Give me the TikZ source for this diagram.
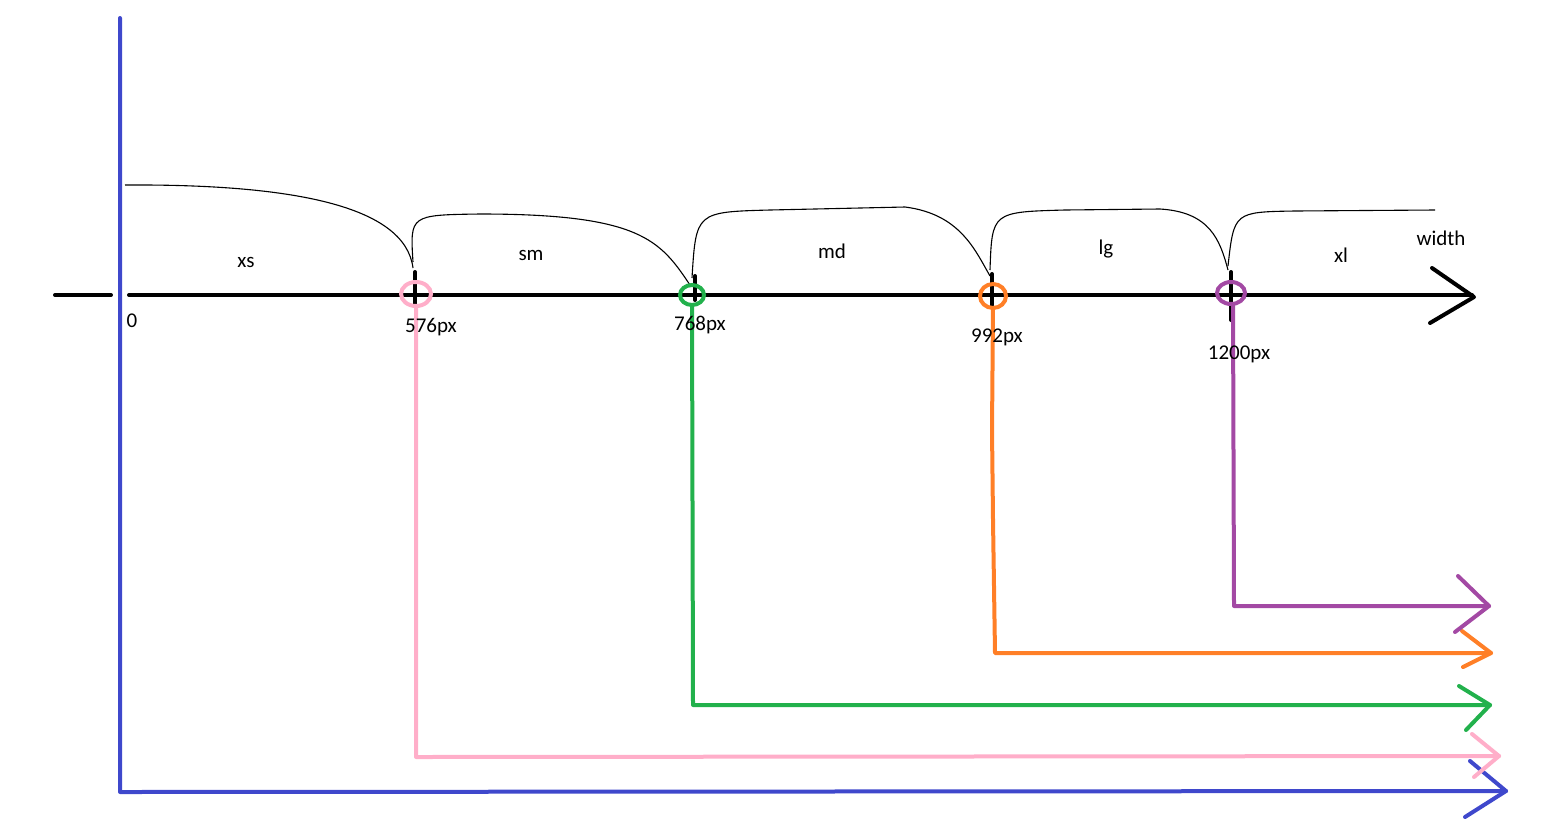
\documentclass[tikz,border=0pt]{standalone}
\usepackage{fontspec}
\setmainfont{Carlito}
\definecolor{pblue}{HTML}{3F48CC}
\definecolor{ppink}{HTML}{FFAEC9}
\definecolor{pgreen}{HTML}{22B14C}
\definecolor{porange}{HTML}{FF7F27}
\definecolor{ppurple}{HTML}{A349A4}
\begin{document}
\begin{tikzpicture}[x=0.5pt,y=-0.5pt,
  thick line/.style={line width=2pt,line cap=round,line join=round},
  thin curve/.style={line width=0.55pt,black},
  ring/.style={line width=2pt},
  lbl/.style={font=\fontsize{10.5}{12}\selectfont,inner sep=0pt}]
\useasboundingbox (0,0) rectangle (1557,820);
% coordinates
\coordinate (btop) at (120,18);
\coordinate (bcorner) at (120,792);
\coordinate (btip) at (1506,791);
\coordinate (axL) at (55,295);
\coordinate (axLgap) at (111,295);
\coordinate (axRgap) at (129,295);
\coordinate (axtip) at (1474,297);
\coordinate (b576) at (416,294);
\coordinate (b768) at (692,295);
\coordinate (b992) at (993,296);
\coordinate (b1200) at (1231,293);
% blue
\draw[thick line,pblue] (btop) -- (bcorner) -- (btip);
\draw[thick line,pblue] (1470,761) -- (btip) -- (1465,817);
% axis
\draw[thick line,black] (axL) -- (axLgap);
\draw[thick line,black] (axRgap) -- (1472,295);
\draw[thick line,black] (1432,268) -- (axtip) -- (1430,323);
% ticks
\draw[thick line,black] (415,272) -- (415,305);
\draw[thick line,black] (695,276) -- (695,300);
\draw[thick line,black] (992,274) -- (992,305);
\draw[thick line,black] (1231,272) -- (1231,320);
% curves
\draw[thin curve] (125,185) .. controls (290,184) and (405,205) .. (413,268);
\draw[thin curve] (413,262) .. controls (410,215) .. (480,214) .. controls (640,214) and (660,240) .. (690,285);
\draw[thin curve] (692,278) .. controls (696,212) .. (770,210) -- (905,207) .. controls (960,214) and (975,250) .. (990,276);
\draw[thin curve] (990,270) .. controls (992,212) .. (1065,210) -- (1160,209) .. controls (1210,212) and (1220,240) .. (1228,270);
\draw[thin curve] (1228,266) .. controls (1234,212) .. (1295,211) -- (1435,210);
% colored connectors
\draw[thick line,ppink] (b576) ++(0,12) coordinate (p0) (p0) -- (416,757) coordinate (pc) -- (1499,756) coordinate (ptip);
\draw[thick line,ppink] (1472,734) -- (ptip) -- (1474,777);
\draw[thick line,pgreen] (b768) ++(0,10) coordinate (g0) (g0) -- (693,705) coordinate (gc) -- (1490,705) coordinate (gtip);
\draw[thick line,pgreen] (1459,686) -- (gtip) -- (1466,730);
\draw[thick line,porange] (b992) ++(0,12) coordinate (o0) (o0) -- (992,430) -- (993,520) -- (995,653) coordinate (oc) -- (1491,653) coordinate (otip);
\draw[thick line,porange] (1462,631) -- (otip) -- (1463,667);
\draw[thick line,ppurple] (b1200) ++(2,11) coordinate (u0) (u0) -- (1234,606) coordinate (uc) -- (1489,606) coordinate (utip);
\draw[thick line,ppurple] (1458,576) -- (utip) -- (1455,632);
% rings
\draw[ring,ppink] (b576) ellipse [x radius=15, y radius=12];
\draw[ring,pgreen] (b768) ellipse [x radius=12, y radius=10];
\draw[ring,porange] (b992) ellipse [x radius=13, y radius=12];
\draw[ring,ppurple] (b1200) ellipse [x radius=14, y radius=11];
% labels
\node[lbl] (l0) at (132,321) {0};
\node[lbl] (l576) at (431,327) {576px};
\node[lbl] (l768) at (700,325) {768px};
\node[lbl] (l992) at (997,337) {992px};
\node[lbl] (l1200) at (1239,354) {1200px};
\node[lbl] (xs) at (246,262) {xs};
\node[lbl] (sm) at (531,255) {sm};
\node[lbl] (md) at (832,251) {md};
\node[lbl] (lg) at (1106,249) {lg};
\node[lbl] (xl) at (1341,255) {xl};
\node[lbl] (wd) at (1441,238) {width};
\end{tikzpicture}
\end{document}
